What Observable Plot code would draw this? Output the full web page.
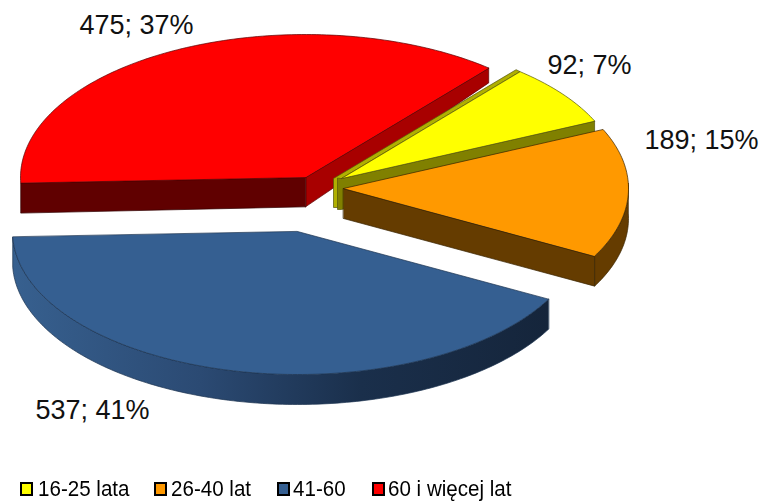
<!DOCTYPE html>
<html>
<head>
<meta charset="utf-8">
<script src="https://cdn.jsdelivr.net/npm/d3@7"></script>
<script src="https://cdn.jsdelivr.net/npm/@observablehq/plot@0.6"></script>
<style>
  html, body { margin: 0; padding: 0; background: #fff; }
  #wrap { position: relative; width: 759px; height: 501px; overflow: hidden; font-family: "Liberation Sans", Arial, sans-serif; filter: blur(0.35px); }
  #chart svg { display: block; }
  .lg { position: absolute; top: 476px; height: 25px; line-height: 25px; font-size: 22px; color: #000; white-space: nowrap; transform: scaleX(0.935); transform-origin: left center; }
  .sw { position: absolute; top: 482px; width: 9px; height: 10px; border: 2px solid #000; }
</style>
</head>
<body>
<div id="wrap"><div id="chart"></div></div>
<script>
// ---- data ----
const categories = ["16-25 lata", "26-40 lat", "41-60", "60 i więcej lat"];
const values = [92, 189, 537, 475];
const percents = [7, 15, 41, 37];

// ---- styles ----
const topColors = ["#ffff00", "#ff9900", "#355f91", "#ff0000"];
const rimColors = ["#808000", "#653c00", "url(#blueRim)", "#a80000"];
const edgeColors = ["#55550a", "#3a2400", "#1c3350", "#5a0000"];

// ---- layout of the exploded 3-D pie ----
const W = 759, H = 470;
const rx = 285, ry = 143, startDeg = 40;
const apexX = [341, 343, 297, 305];
const apexY = [178, 188, 231, 177];
const radialScale = [0.975, 1, 1, 1];
const labelX = [589, 701, 92, 136];
const labelY = [65, 140, 410, 25];
const legendSwatchX = [20, 154, 277, 372];
const legendTextX = [38, 171, 293, 388];
const depthAt = y => y >= 182 ? 30 : 15 + (y - 68) * 15 / 114;

// ---- geometry derived from the values ----
const total = d3.sum(values);
let cum = startDeg;
const slices = values.map((v, i) => {
  const a0 = cum, a1 = cum + v / total * 360;
  cum = a1;
  const pt = a => {
    const t = a * Math.PI / 180, k = radialScale[i];
    return {x: apexX[i] + k * rx * Math.sin(t), y: apexY[i] - k * ry * Math.cos(t)};
  };
  const arc = (from, to) => {
    const n = Math.max(2, Math.ceil(Math.abs(to - from)));
    return d3.range(n + 1).map(j => pt(from + (to - from) * j / n));
  };
  return {i, a0, a1, apex: {x: apexX[i], y: apexY[i]}, pt, arc};
});
const down = p => ({x: p.x, y: p.y + depthAt(p.y)});
const shift = (p, dx, dy) => ({x: p.x + dx, y: p.y + dy});
const poly = (pts, fill, stroke, strokeWidth = 0.7) =>
  Plot.line(pts, {x: "x", y: "y", fill, stroke, strokeWidth, curve: "linear-closed", strokeLinejoin: "round"});
const topFace = s => poly([s.apex, ...s.arc(s.a0, s.a1)], topColors[s.i], edgeColors[s.i]);
const face = (a, b, fill, stroke) => poly([a, b, down(b), down(a)], fill, stroke);
const rim = (s, from, to) => {
  const arc = s.arc(from, to);
  return poly([...arc, ...arc.map(down).reverse()], rimColors[s.i], edgeColors[s.i]);
};

const [yellow, orange, blue, red] = slices;
const yEnd = yellow.pt(yellow.a1), yStart = yellow.pt(yellow.a0);

const marks = [
  // red slice (farthest back)
  face(red.apex, red.pt(red.a1), "#a80000", edgeColors[3]),
  face(red.apex, red.pt(red.a0), "#600000", "#300000"),
  topFace(red),
  // yellow slice
  poly([yellow.apex, yStart, shift(yStart, -4, -2), shift(yellow.apex, -8, 0), shift(yellow.apex, -8, 29), shift(yellow.apex, -4, 29)], "#b0b000", edgeColors[0]),
  poly([yellow.apex, yEnd, down(yEnd), shift(yellow.apex, 0, 31), shift(yellow.apex, -4, 31), shift(yellow.apex, -4, 0)], "#808000", edgeColors[0]),
  topFace(yellow),
  // orange slice
  rim(orange, 88, orange.a1),
  face(orange.apex, orange.pt(orange.a1), "#653c00", edgeColors[1]),
  topFace(orange),
  // blue slice (nearest)
  rim(blue, blue.a0, blue.a1),
  topFace(blue),
  // data labels
  Plot.text(values.map((v, i) => ({t: `${v}; ${percents[i]}%`, x: labelX[i], y: labelY[i]})), {
    x: "x", y: "y", text: "t", fontSize: 27, fill: "#111", textAnchor: "middle", lineAnchor: "middle",
    fontFamily: "Liberation Sans"
  })
];

const plot = Plot.plot({
  width: W, height: H,
  marginTop: 0, marginRight: 0, marginBottom: 0, marginLeft: 0,
  x: {domain: [0, W], range: [0, W], axis: null},
  y: {domain: [0, H], range: [0, H], axis: null},
  style: {background: "#fff", overflow: "visible"},
  marks
});
plot.insertAdjacentHTML("afterbegin",
  `<defs><linearGradient id="blueRim" x1="0" x2="1" y1="0" y2="0">
    <stop offset="0" stop-color="#37608f"/>
    <stop offset="0.35" stop-color="#2b4a73"/>
    <stop offset="0.65" stop-color="#1a2f4b"/>
    <stop offset="1" stop-color="#15253b"/>
  </linearGradient></defs>`);
document.getElementById("chart").append(plot);

// ---- legend below the chart ----
const wrap = document.getElementById("wrap");
categories.forEach((c, i) => {
  const sw = document.createElement("div");
  sw.className = "sw";
  sw.style.left = legendSwatchX[i] + "px";
  sw.style.background = topColors[i];
  wrap.append(sw);
  const t = document.createElement("div");
  t.className = "lg";
  t.style.left = legendTextX[i] + "px";
  t.textContent = c;
  wrap.append(t);
});
</script>
</body>
</html>
